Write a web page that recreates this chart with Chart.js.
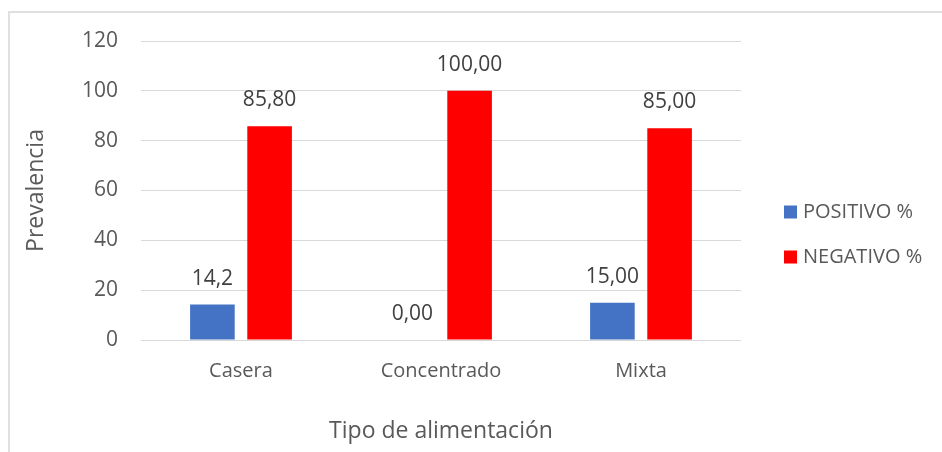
<!DOCTYPE html>
<html>
<head>
<meta charset="utf-8">
<script src="https://cdn.jsdelivr.net/npm/chart.js@4/dist/chart.umd.min.js"></script>
<style>
  body { margin: 0; background: #fff; }
  .wrap { position: relative; width: 942px; height: 452px; overflow: hidden; }
  .frame {
    position: absolute; left: 8px; top: 11px; right: -10px; bottom: -10px;
    border: 2px solid #e0e0e0; pointer-events: none;
  }
  canvas { position: absolute; left: 0; top: 0; }
</style>
</head>
<body>
<div class="wrap">
  <canvas id="chart" width="942" height="452"></canvas>
  <div class="frame"></div>
</div>
<script>
const categories = ['Casera', 'Concentrado', 'Mixta'];
const positivo = [14.2, 0, 15];
const negativo = [85.8, 100, 85];
const positivoLabels = ['14,2', '0,00', '15,00'];
const negativoLabels = ['85,80', '100,00', '85,00'];

Chart.defaults.font.family = "'Open Sans', sans-serif";

// value labels above each bar
const barLabels = {
  id: 'barLabels',
  afterDatasetsDraw(chart) {
    const ctx = chart.ctx;
    ctx.save();
    ctx.font = "21px 'Open Sans', sans-serif";
    ctx.fillStyle = '#404040';
    ctx.textAlign = 'center';
    ctx.textBaseline = 'middle';
    chart.data.datasets.forEach((ds, i) => {
      chart.getDatasetMeta(i).data.forEach((bar, j) => {
        ctx.fillText(ds.valueLabels[j], bar.x, bar.y - 26);
      });
    });
    ctx.restore();
  }
};

// legend to the right of the plot
const sideLegend = {
  id: 'sideLegend',
  afterDraw(chart) {
    const ctx = chart.ctx;
    const x = chart.chartArea.right + 43;
    ctx.save();
    ctx.font = "20px 'Open Sans', sans-serif";
    ctx.textBaseline = 'middle';
    chart.data.datasets.forEach((ds, i) => {
      const y = 212 + i * 45;
      ctx.fillStyle = ds.backgroundColor;
      ctx.fillRect(x, y - 6.5, 13, 13);
      ctx.fillStyle = '#595959';
      ctx.fillText(ds.label, x + 19, y);
    });
    ctx.restore();
  }
};

new Chart(document.getElementById('chart'), {
  type: 'bar',
  data: {
    labels: categories,
    datasets: [
      { label: 'POSITIVO %', data: positivo, valueLabels: positivoLabels, backgroundColor: '#4472c4' },
      { label: 'NEGATIVO %', data: negativo, valueLabels: negativoLabels, backgroundColor: '#ff0000' }
    ]
  },
  options: {
    responsive: false,
    animation: false,
    layout: { padding: { left: 23, top: 41, right: 201, bottom: 7 } },
    datasets: { bar: { categoryPercentage: 0.572, barPercentage: 0.78 } },
    plugins: { legend: { display: false }, tooltip: { enabled: false } },
    scales: {
      x: {
        grid: { display: false, drawTicks: false },
        border: { display: false },
        ticks: { color: '#595959', font: { size: 20 }, padding: 19 },
        title: { display: true, text: 'Tipo de alimentación', color: '#595959', font: { size: 23 }, padding: 0 },
        afterFit(scale) { scale.height = 105; }
      },
      y: {
        min: 0, max: 120,
        grid: { color: '#d9d9d9', drawTicks: false },
        border: { display: false },
        ticks: { stepSize: 20, color: '#595959', font: { size: 21 }, padding: 23 },
        title: { display: true, text: 'Prevalencia', color: '#595959', font: { size: 23 }, padding: 0 },
        afterFit(scale) { scale.width = 118; }
      }
    }
  },
  plugins: [barLabels, sideLegend]
});
</script>
</body>
</html>
